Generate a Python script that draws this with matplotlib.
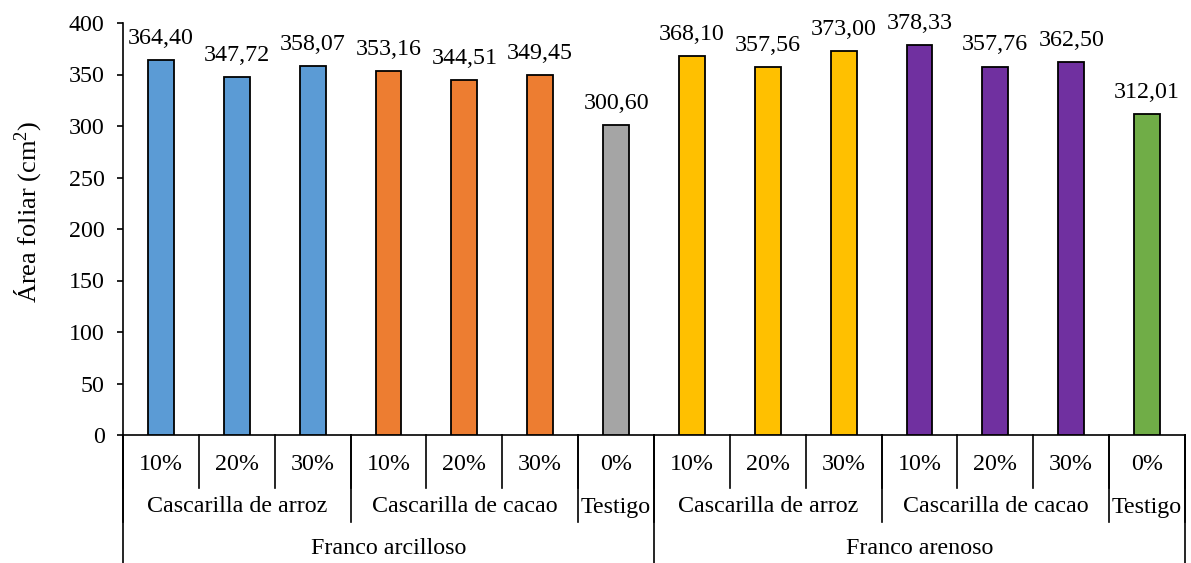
import matplotlib
matplotlib.use("Agg")
import matplotlib.pyplot as plt
from matplotlib.transforms import blended_transform_factory

plt.rcParams['font.family'] = ['Liberation Serif', 'DejaVu Serif']
plt.rcParams['mathtext.fontset'] = 'custom'
plt.rcParams['mathtext.rm'] = 'Liberation Serif'
plt.rcParams['mathtext.it'] = 'Liberation Serif:italic'
plt.rcParams['mathtext.bf'] = 'Liberation Serif:bold'

pct_labels = ["10%", "20%", "30%", "10%", "20%", "30%", "0%",
              "10%", "20%", "30%", "10%", "20%", "30%", "0%"]
values = [364.40, 347.72, 358.07, 353.16, 344.51, 349.45, 300.60,
          368.10, 357.56, 373.00, 378.33, 357.76, 362.50, 312.01]
group_labels = ["Cascarilla de arroz", "Cascarilla de cacao", "Testigo",
                "Cascarilla de arroz", "Cascarilla de cacao", "Testigo"]
group_sizes = [3, 3, 1, 3, 3, 1]
soil_labels = ["Franco arcilloso", "Franco arenoso"]
soil_sizes = [7, 7]
group_colors = ["#5B9BD5", "#ED7D31", "#A5A5A5", "#FFC000", "#7030A0", "#70AD47"]

colors = []
for c, n in zip(group_colors, group_sizes):
    colors += [c] * n

FS = 17.3
W, H = 1191, 563
fig = plt.figure(figsize=(W / 100, H / 100), dpi=100)
ax = fig.add_axes([123 / W, 1 - 435 / H, (1185 - 123) / W, (435 - 23) / H])

x = list(range(len(values)))
bars = ax.bar(x, values, width=0.34, color=colors, edgecolor="black", linewidth=1.3, zorder=3)
for xi, v in zip(x, values):
    ax.annotate(f"{v:.2f}".replace(".", ","), (xi, v), xytext=(0, 8),
                textcoords="offset points", ha="center", va="bottom", fontsize=FS)

ax.set_xlim(-0.5, len(values) - 0.5)
ax.set_ylim(0, 400)
ax.set_yticks(range(0, 401, 50))
ax.tick_params(axis="y", labelsize=FS, length=4.3, width=1.2, direction="out", pad=9)
ax.set_xticks([])
for s in ["top", "right"]:
    ax.spines[s].set_visible(False)
ax.spines["left"].set_linewidth(1.2)
ax.spines["bottom"].set_linewidth(1.2)
fig.text(28 / W, 1 - 212 / H, "Área foliar (cm$^{2}$)", rotation=90,
         ha="center", va="center", fontsize=19)

tr = blended_transform_factory(ax.transData, fig.transFigure)
def fy(py):
    return 1 - py / H

# level 1
for i, lab in enumerate(pct_labels):
    ax.text(i, fy(465), lab, transform=tr, ha="center", va="center", fontsize=FS)
for b in range(len(values) + 1):
    ax.plot([b - 0.5, b - 0.5], [fy(435), fy(488)], transform=tr, color="black", lw=1.2, clip_on=False)
# level 2
start = 0
for lab, n in zip(group_labels, group_sizes):
    ax.text(start + n / 2 - 0.5, fy(507), lab, transform=tr, ha="center", va="center", fontsize=FS)
    ax.plot([start - 0.5, start - 0.5], [fy(435), fy(522)], transform=tr, color="black", lw=1.2, clip_on=False)
    start += n
ax.plot([start - 0.5, start - 0.5], [fy(435), fy(522)], transform=tr, color="black", lw=1.2, clip_on=False)
# level 3
start = 0
for lab, n in zip(soil_labels, soil_sizes):
    ax.text(start + n / 2 - 0.5, fy(549), lab, transform=tr, ha="center", va="center", fontsize=FS)
    ax.plot([start - 0.5, start - 0.5], [fy(435), fy(563)], transform=tr, color="black", lw=1.2, clip_on=False)
    start += n
ax.plot([start - 0.5, start - 0.5], [fy(435), fy(563)], transform=tr, color="black", lw=1.2, clip_on=False)

fig.savefig("out.png", dpi=100)
